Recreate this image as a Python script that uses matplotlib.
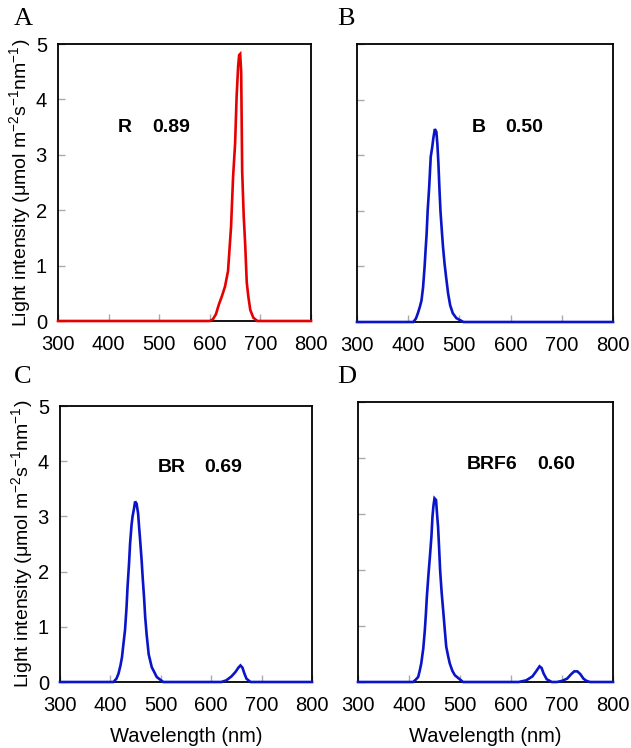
import matplotlib
matplotlib.use("Agg")
import matplotlib.pyplot as plt

plt.rcParams['font.family'] = ['Liberation Sans', 'DejaVu Sans']
plt.rcParams['mathtext.default'] = 'regular'

# ---- data ----
wl_A = [300, 600, 606, 612, 618, 624, 630, 636, 642, 646, 650, 653, 656, 658, 660,
        662, 664, 667, 670, 673, 676, 680, 686, 694, 800]
val_A = [0, 0, 0.03, 0.12, 0.3, 0.45, 0.62, 0.9, 1.7, 2.6, 3.2, 4.05, 4.6, 4.8, 4.82,
         4.5, 2.7, 1.9, 1.37, 0.7, 0.45, 0.2, 0.06, 0, 0]

wl_B = [300, 410, 415, 419, 423, 426, 429, 432, 434, 436, 438, 441, 444, 447, 449, 452,
        455, 457, 459, 461, 463, 466, 468, 471, 474, 478, 482, 487, 494, 508, 800]
val_B = [0, 0, 0.06, 0.16, 0.28, 0.39, 0.62, 0.99, 1.3, 1.59, 2.0, 2.43, 2.97, 3.15, 3.3, 3.47,
         3.42, 3.2, 2.85, 2.4, 2.0, 1.6, 1.35, 1.05, 0.81, 0.51, 0.3, 0.16, 0.07, 0, 0]

wl_C = [300, 406, 412, 416, 420, 423, 426, 429, 432, 434, 437, 439, 442, 444, 447, 449, 452,
        455, 457, 459, 462, 464, 467, 469, 472, 476, 482, 492, 505,
        620, 630, 640, 648, 654, 658, 662, 666, 670, 678, 800]
val_C = [0, 0, 0.06, 0.15, 0.3, 0.45, 0.7, 0.94, 1.35, 1.72, 2.15, 2.5, 2.85, 3.0, 3.15, 3.27, 3.23,
         3.05, 2.8, 2.57, 2.2, 1.9, 1.5, 1.18, 0.85, 0.5, 0.27, 0.09, 0,
         0, 0.03, 0.1, 0.18, 0.26, 0.3, 0.26, 0.15, 0.06, 0, 0]

wl_D = [300, 408, 413, 418, 421, 424, 428, 431, 433, 435, 438, 441, 444, 446, 448, 450, 453,
        455, 457, 459, 461, 464, 467, 470, 473, 477, 480, 485, 490, 506,
        615, 630, 642, 650, 656, 660, 664, 670, 680,
        690, 700, 710, 718, 724, 730, 736, 742, 748, 755, 800]
val_D = [0, 0, 0.04, 0.09, 0.2, 0.33, 0.6, 0.92, 1.2, 1.52, 1.9, 2.24, 2.6, 2.95, 3.15, 3.28, 3.25,
         3.0, 2.77, 2.4, 2.0, 1.6, 1.28, 0.95, 0.63, 0.45, 0.33, 0.2, 0.12, 0,
         0, 0.03, 0.1, 0.2, 0.28, 0.25, 0.15, 0.05, 0,
         0, 0.02, 0.06, 0.14, 0.19, 0.19, 0.14, 0.06, 0.02, 0, 0]

labels = ["A", "B", "C", "D"]
notes = [("R", "0.89"), ("B", "0.50"), ("BR", "0.69"), ("BRF6", "0.60")]
note_pos = [((418, 3.5), (486, 3.5)), ((525, 3.5), (590, 3.5)),
            ((494, 3.88), (586, 3.88)), ((514, 3.88), (651, 3.88))]
xticks = [300, 400, 500, 600, 700, 800]
yticks = [0, 1, 2, 3, 4, 5]

red = "#e60000"
blue = "#0a14c8"
series = [(wl_A, val_A, red), (wl_B, val_B, blue), (wl_C, val_C, blue), (wl_D, val_D, blue)]

W, H = 631, 748
boxes = [(58, 44, 311, 321), (357, 44, 613, 322), (60, 406, 312, 682), (358, 402, 613, 682)]
letter_pos = [(14, 19), (337, 19), (14, 377), (337, 377)]

fig = plt.figure(figsize=(W / 100, H / 100), dpi=100)
ylabel = r'Light intensity ($\mu$mol m$^{-2}$s$^{-1}$nm$^{-1}$)'

for i, (l, t, r, b) in enumerate(boxes):
    ax = fig.add_axes([l / W, 1 - b / H, (r - l) / W, (b - t) / H])
    wl, val, col = series[i]
    ax.plot(wl, val, color=col, lw=1.9, clip_on=False, zorder=3,
            solid_joinstyle='miter')
    ax.set_xlim(300, 800)
    ax.set_ylim(0, 5)
    ax.set_xticks(xticks)
    ax.set_yticks(yticks)
    ax.tick_params(direction='in', length=5, width=1, color='#aaaaaa',
                   labelsize=14.5)
    ax.tick_params(axis='x', pad=10)
    ax.tick_params(axis='y', pad=8)
    for s in ax.spines.values():
        s.set_linewidth(1.3)
        s.set_color('black')
    if i in (1, 3):
        ax.set_yticklabels([])
    else:
        ax.set_ylabel(ylabel, fontsize=14, labelpad=2)
    if i in (2, 3):
        ax.set_xlabel('Wavelength (nm)', fontsize=14.5, labelpad=9)
    (x1, y1), (x2, y2) = note_pos[i]
    ax.text(x1, y1, notes[i][0], fontsize=14, fontweight='bold', va='center', ha='left')
    ax.text(x2, y2, notes[i][1], fontsize=14, fontweight='bold', va='center', ha='left')
    fig.text(letter_pos[i][0] / W, 1 - letter_pos[i][1] / H, labels[i],
             family='Liberation Serif', fontsize=19, va='center', ha='left')

fig.savefig('out.png', dpi=100)
